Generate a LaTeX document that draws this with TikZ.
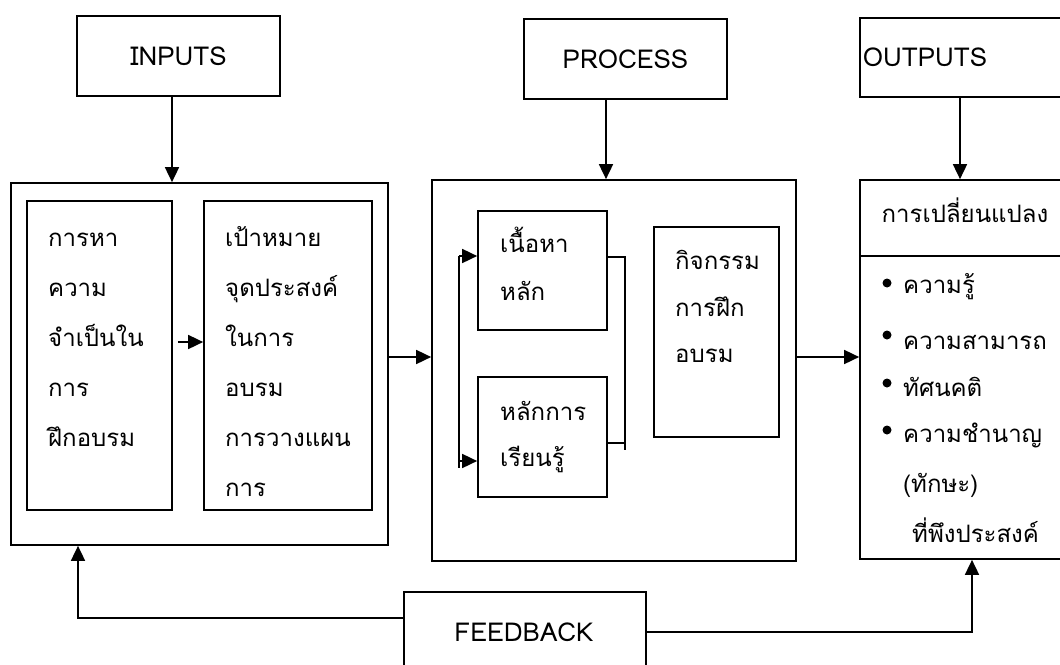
\documentclass[tikz,border=0pt]{standalone}
\usepackage{fontspec}
\usetikzlibrary{arrows.meta}
\newfontfamily\thaifont[Script=Thai]{Loma}
\begin{document}
\begin{tikzpicture}[x=1pt,y=-1pt,
  box/.style={draw,line width=1.7pt,inner sep=0pt},
  arr/.style={line width=1.7pt,-{Triangle[length=15pt,width=14pt]}},
  ln/.style={line width=1.7pt},
  th/.style={font=\thaifont\fontsize{24}{30}\selectfont,inner sep=0pt,anchor=base west},
  lab/.style={font=\thaifont\fontsize{26}{30}\selectfont,inner sep=0pt},
  dot/.style={circle,fill,inner sep=0pt,minimum size=9pt}]
\useasboundingbox (0,0) rectangle (1060,664);
% top boxes
\node[box,minimum width=203pt,minimum height=80pt] (inp) at (178.5,56) {};
\node[lab] (inpt) at (inp) {INPUTS};
\node[box,minimum width=203pt,minimum height=80pt] (proc) at (625.5,59) {};
\node[lab] (proct) at (proc) {PROCESS};
\node[box,minimum width=240pt,minimum height=79pt] (outp) at (980,57.5) {};
\node[lab] (outpt) at (925,57.5) {OUTPUTS};
% input block
\node[box,minimum width=377pt,minimum height=362pt] (L) at (199.5,364) {};
\node[box,minimum width=145pt,minimum height=309pt] (b1) at (99.5,355.5) {};
\node[box,minimum width=168pt,minimum height=309pt] (b2) at (288,355.5) {};
\foreach \t [count=\i] in {การหา,ความ,จำเป็นใน,การ,ฝึกอบรม}
  \node[th] (b1l\i) at (48,{246+50*(\i-1)}) {\t};
\foreach \t [count=\i] in {เป้าหมาย,จุดประสงค์,ในการ,อบรม,การวางแผน,การ}
  \node[th] (b2l\i) at (225,{246+50*(\i-1)}) {\t};
% process block
\node[box,minimum width=364pt,minimum height=381pt] (P) at (614,370.5) {};
\node[box,minimum width=129pt,minimum height=119pt] (A) at (542.5,270.5) {};
\node[box,minimum width=129pt,minimum height=120pt] (B) at (542.5,437) {};
\node[box,minimum width=125pt,minimum height=210pt] (C) at (716.5,332) {};
\node[th] (a1) at (500,252) {เนื้อหา};
\node[th] (a2) at (500,300) {หลัก};
\node[th] (bb1) at (500,420) {หลักการ};
\node[th] (bb2) at (500,466) {เรียนรู้};
\node[th] (c1) at (675,269) {กิจกรรม};
\node[th] (c2) at (675,316) {การฝึก};
\node[th] (c3) at (675,362) {อบรม};
% output block
\node[box,minimum width=240pt,minimum height=379pt] (O) at (980,369.5) {};
\coordinate (dv) at (860,256);
\draw[ln] (dv) -- (dv -| O.east);
\node[lab,font=\thaifont\fontsize{24}{30}\selectfont,anchor=base] (ot) at (965,222) {การเปลี่ยนแปลง};
\node[th] (o1) at (903,293) {ความรู้};
\node[th] (o2) at (903,349) {ความสามารถ};
\node[th] (o3) at (903,396) {ทัศนคติ};
\node[th] (o4) at (903,442) {ความชำนาญ};
\node[th] (o5) at (903,492) {(ทักษะ)};
\node[th] (o6) at (912,542) {ที่พึงประสงค์};
\node[dot] (d1) at (887,283) {};
\node[dot] (d2) at (887,335) {};
\node[dot] (d3) at (887,383) {};
\node[dot] (d4) at (887,430) {};
% feedback
\node[box,fill=white,minimum width=242pt,minimum height=108pt] (FB) at (525,646) {};
\node[lab] (fbt) at (524,632) {FEEDBACK};
% arrows top
\draw[arr] ([xshift=-6.5pt]inp.south) -- ([xshift=-6.5pt]inp.south |- L.north);
\draw[arr] ([xshift=-19.5pt]proc.south) -- ([xshift=-19.5pt]proc.south |- P.north);
\draw[arr] ([xshift=-20pt]outp.south) -- ([xshift=-20pt]outp.south |- O.north);
% internal arrows
\draw[arr] ([xshift=5pt,yshift=13.5pt]b1.east) -- ([yshift=13.5pt]b2.west);
\draw[arr] ([yshift=7pt]L.east) -- ([yshift=7pt]L.east -| P.west);
\draw[arr] ([yshift=13.5pt]P.east) -- ([yshift=13.5pt]P.east -| O.west);
% brackets
\coordinate (lbt) at (459,256);
\coordinate (lbb) at (459,468);
\coordinate (lba) at (459,461);
\draw[ln] (lbt) -- (lbb);
\draw[arr] (lbt) -- (lbt -| A.west);
\draw[arr] (lba) -- (lba -| B.west);
\coordinate (rbt) at (625,257);
\coordinate (rbb) at (625,450);
\coordinate (rbh) at (625,443);
\draw[ln] (rbt -| A.east) -- (rbt) -- (rbb);
\draw[ln] (rbh -| B.east) -- (rbh);
% feedback lines
\coordinate (fl) at (78,618);
\coordinate (fr) at (972,632);
\draw[arr] (fl -| FB.west) -- (fl) -- (fl |- L.south);
\draw[arr] (fr -| FB.east) -- (fr) -- (fr |- O.south);
\end{tikzpicture}
\end{document}
